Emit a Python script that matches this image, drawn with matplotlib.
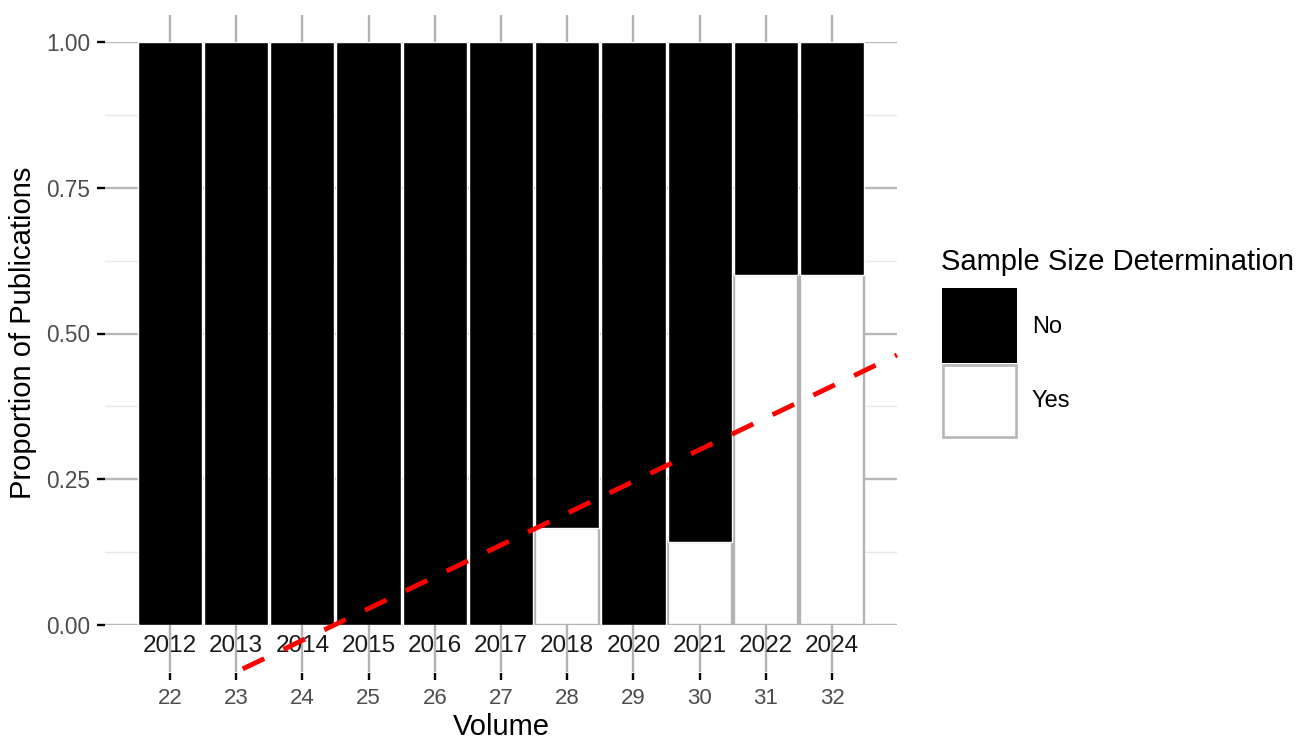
import numpy as np
import matplotlib
matplotlib.use('Agg')
import matplotlib.pyplot as plt
from matplotlib.patches import Rectangle

# ---- data ----
years = ['2012', '2013', '2014', '2015', '2016', '2017', '2018', '2020', '2021', '2022', '2024']
volumes = ['22', '23', '24', '25', '26', '27', '28', '29', '30', '31', '32']
prop_yes = [0, 0, 0, 0, 0, 0, 1/6, 0, 1/7, 0.6, 0.6]
prop_no = [1 - p for p in prop_yes]
categories = ['No', 'Yes']
yticks = [0, 0.25, 0.5, 0.75, 1.0]
ytick_labels = ['0.00', '0.25', '0.50', '0.75', '1.00']
yminor = [0.125, 0.375, 0.625, 0.875]
trend_x_range = (1.1, 10.98)

plt.rcParams['font.family'] = ['Liberation Sans', 'DejaVu Sans']

W, H = 1299, 752
fig = plt.figure(figsize=(W / 100, H / 100), dpi=100)


def fx(px):
    return px / W


def fy(py):
    return 1 - py / H


ax = fig.add_axes([fx(105), fy(625), (897 - 105) / W, (625 - 42) / H])
x = np.arange(len(years))
ax.set_xlim(-0.98, 10.98)
ax.set_ylim(0, 1)
for s in ax.spines.values():
    s.set_visible(False)
ax.set_axisbelow(True)

ax.set_yticks(yticks, labels=ytick_labels)
ax.set_yticks(yminor, minor=True)
ax.yaxis.grid(True, which='major', color='#b8b8b8', lw=1.7)
ax.yaxis.grid(True, which='minor', color='#e8e8e8', lw=1.0)
ax.tick_params(axis='y', which='major', length=5.5, width=1.7, color='black',
               pad=5, labelsize=16.3, labelcolor='#4d4d4d')
ax.tick_params(axis='y', which='minor', length=0)

ax.set_xticks(x, labels=years)
ax.tick_params(axis='x', length=34, width=1.7, color='#b3b3b3', pad=-27,
               labelsize=17.5, labelcolor='#1a1a1a')

# bars
yes_mask = np.array(prop_yes) > 0
ax.bar(x[yes_mask], np.array(prop_yes)[yes_mask], width=0.97, color='white',
       edgecolor='#b3b3b3', lw=1.7, zorder=2)
ax.bar(x, prop_no, bottom=prop_yes, width=0.97, color='black',
       edgecolor='white', lw=1.0, zorder=2)

# trend line (linear fit of the Yes proportion)
slope, intercept = np.polyfit(x, prop_yes, 1)
tx = np.array(trend_x_range)
ax.plot(tx, intercept + slope * tx, color='#ff0000', lw=3.5, dashes=(4.9, 4.4),
        dash_capstyle='butt', clip_on=False, zorder=5)

# secondary bottom axis: volumes
sec = ax.secondary_xaxis(-48 / 583)
for s in sec.spines.values():
    s.set_visible(False)
sec.set_xticks(x, labels=volumes)
sec.tick_params(axis='x', length=5, width=1.7, color='black', pad=6,
                labelsize=16, labelcolor='#4d4d4d')

# top ticks
top = ax.secondary_xaxis('top')
for s in top.spines.values():
    s.set_visible(False)
top.set_xticks(x, labels=[])
top.tick_params(axis='x', length=19.5, width=1.7, color='#b3b3b3')

# axis titles
fig.text(fx(501), fy(727), 'Volume', ha='center', va='center', fontsize=21, color='black')
fig.text(fx(23), fy(333), 'Proportion of Publications', ha='center', va='center',
         rotation=90, fontsize=21, color='black')

# legend
fig.text(fx(941), fy(262), 'Sample Size Determination', ha='left', va='center',
         fontsize=21, color='black')
fig.add_artist(Rectangle((fx(942), fy(363)), 75 / W, 75 / H, transform=fig.transFigure,
                         facecolor='black', edgecolor='none'))
fig.add_artist(Rectangle((fx(943), fy(437)), 73 / W, 72 / H, transform=fig.transFigure,
                         facecolor='white', edgecolor='#b3b3b3', lw=1.8))
fig.text(fx(1032), fy(327), categories[0], ha='left', va='center', fontsize=17)
fig.text(fx(1032), fy(401), categories[1], ha='left', va='center', fontsize=17)

fig.savefig('out.png', dpi=100)
